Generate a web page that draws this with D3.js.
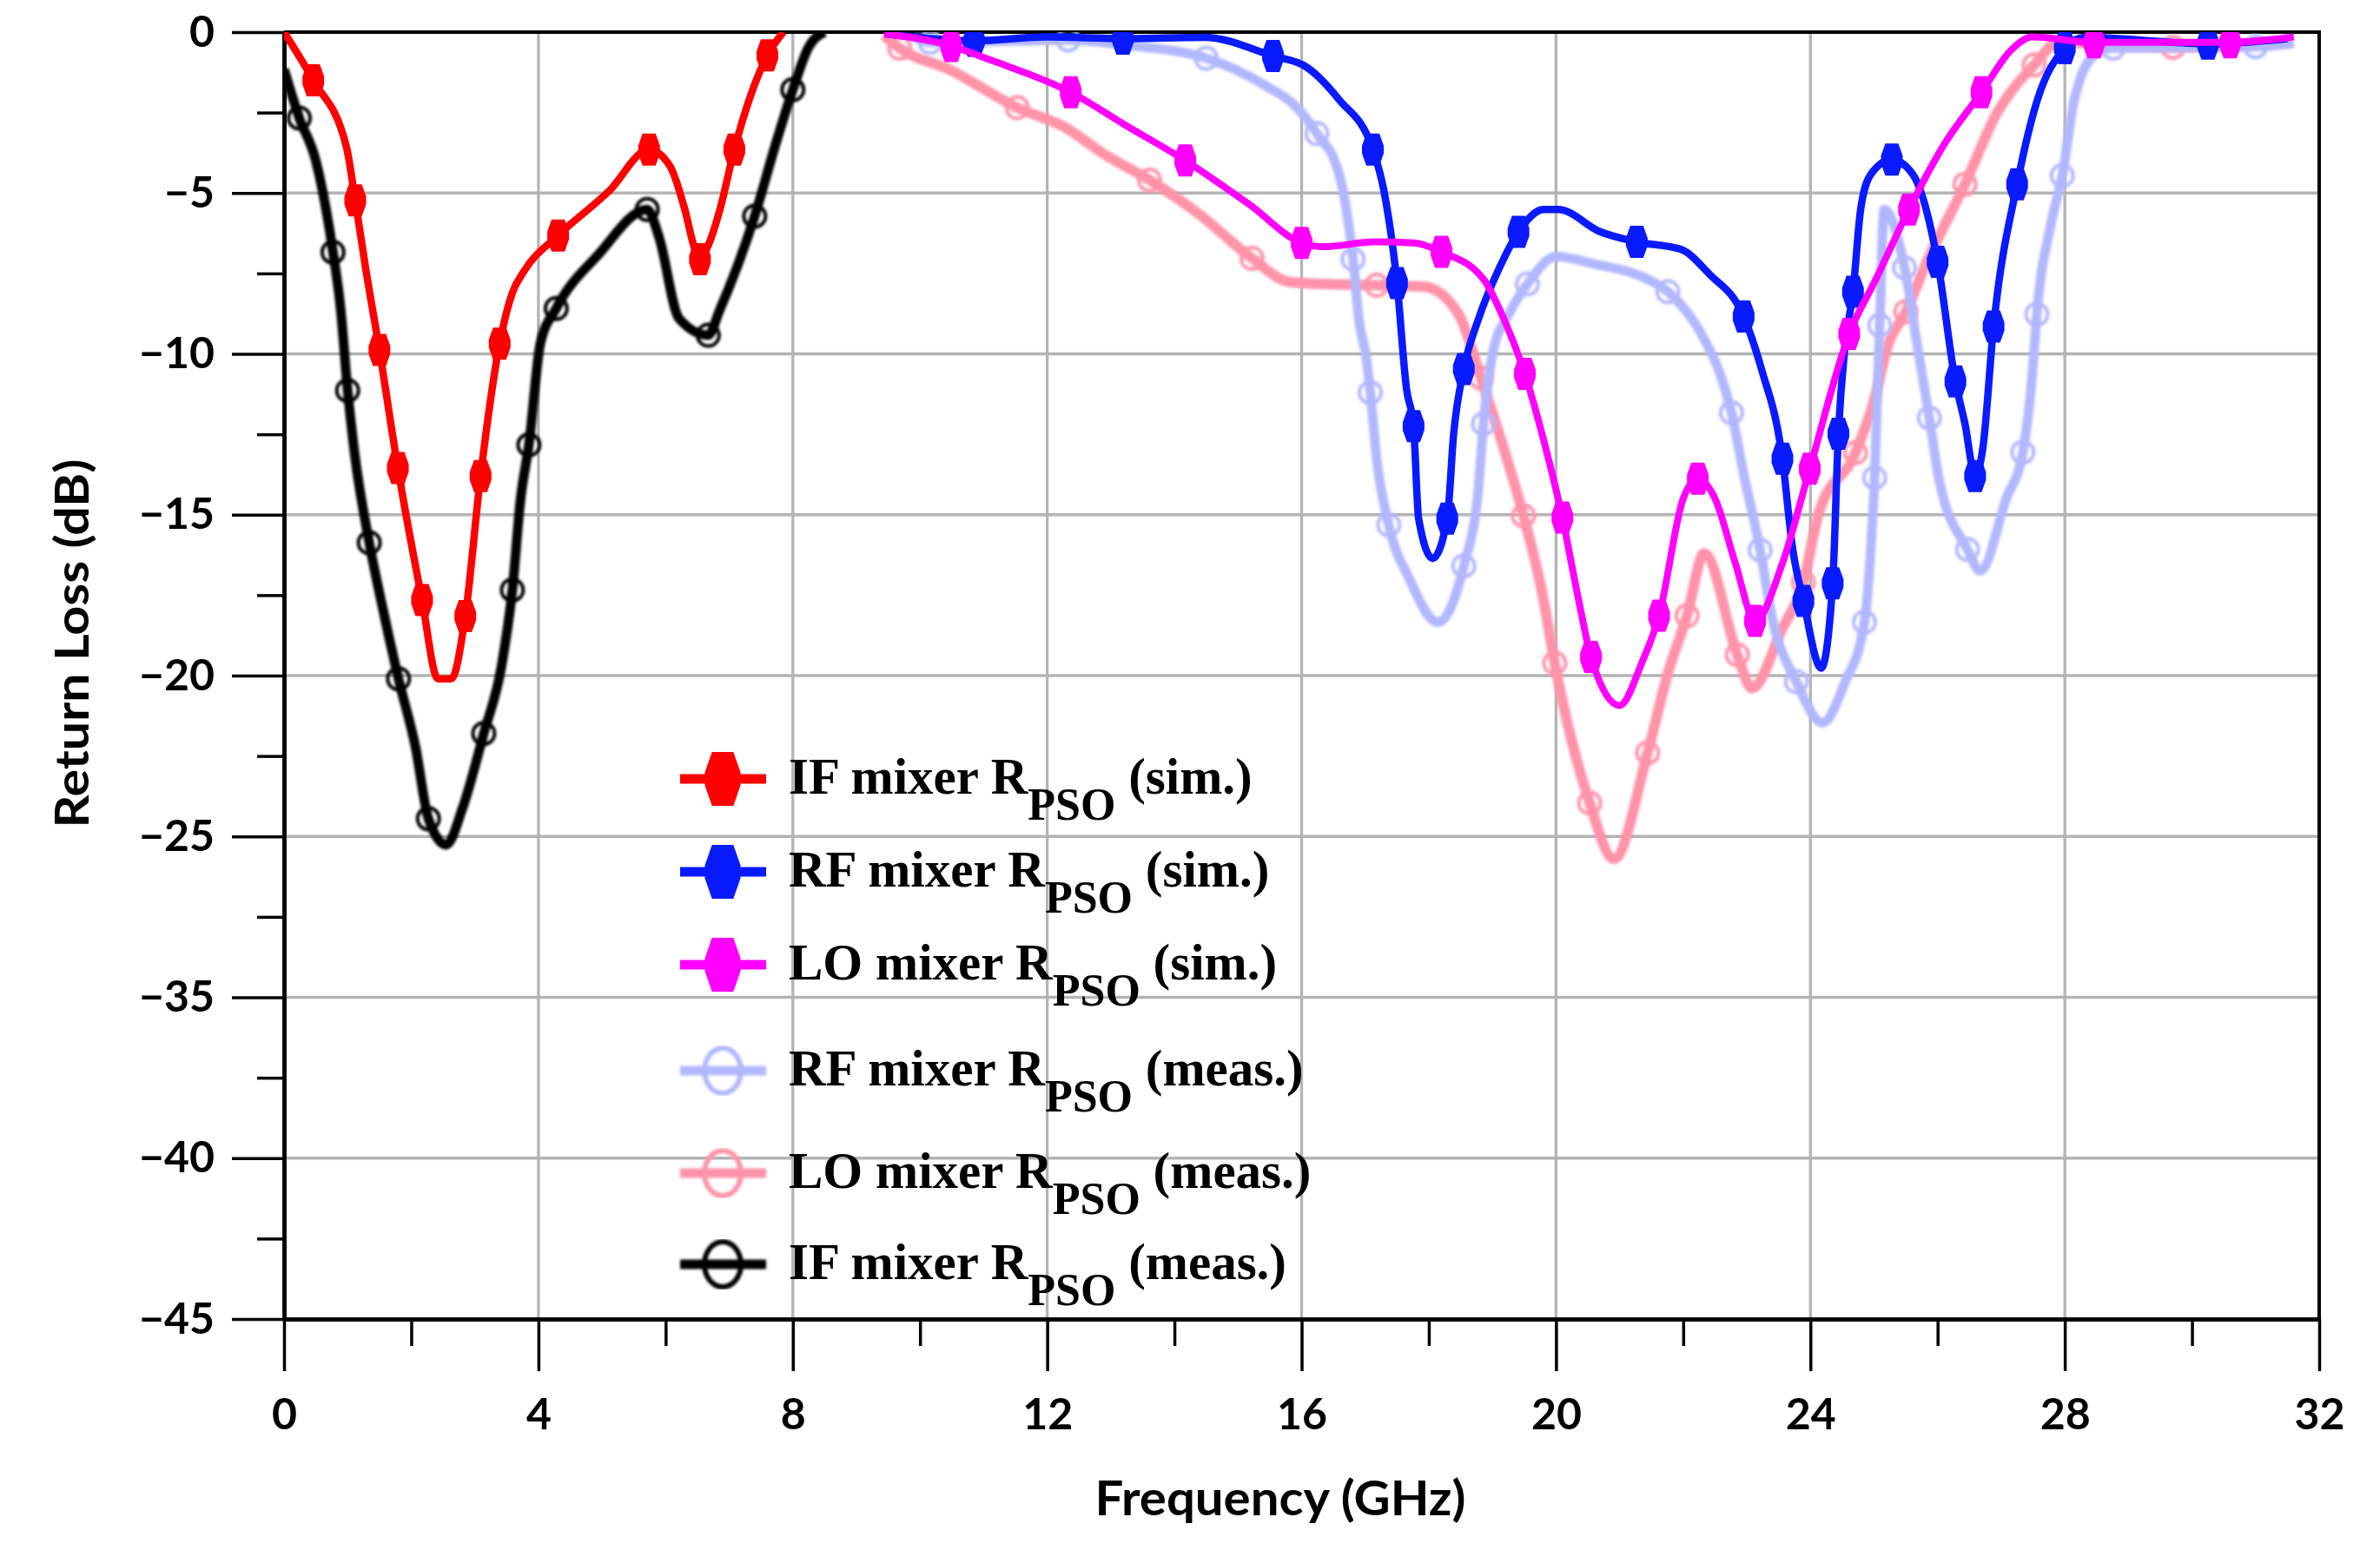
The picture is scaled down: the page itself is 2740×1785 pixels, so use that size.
<!DOCTYPE html>
<html>
<head>
<meta charset="utf-8">
<script src="https://cdn.jsdelivr.net/npm/d3@7"></script>
<style>
  body { margin: 0; background: #fff; }
  .tick text { font-family: Lato, "Open Sans", sans-serif; font-weight: 700; }
</style>
</head>
<body>
<div id="chart"></div>
<script>
// values: [frequency GHz, return loss dB]
var ifSimLine = [[0,0],[0.98,-3.56],[1.28,-7.3],[2.42,-20.1],[2.63,-20.1],[3.59,-8.1],[3.77,-7.44],
  [5.11,-4.94],[6.07,-4.17],[6.3,-5.5],[6.46,-6.75],[6.68,-6.58],[6.85,-5.54],[7.85,0]];
var ifSimMarks = [[0.46,-1.5],[1.12,-5.23],[1.5,-9.88],[1.79,-13.55],[2.17,-17.65],[2.85,-18.15],
  [3.09,-13.8],[3.39,-9.68],[4.31,-6.32],[5.74,-3.65],[6.54,-7.06],[7.08,-3.65],[7.6,-0.72]];

var rfSimLine = [[9.44,-0.05],[12.0,-0.15],[14.47,-0.16],[16.08,-1.09],[16.59,-2.1],[17.29,-4.89],
  [17.65,-11.1],[17.84,-15.12],[18.06,-16.36],[18.39,-12.5],[18.78,-8.92],[19.1,-7.37],[19.8,-5.51],
  [20.04,-5.51],[20.69,-6.2],[21.96,-6.75],[22.41,-7.52],[23.23,-10.47],[23.72,-16.05],[24.17,-19.77],
  [24.54,-9.85],[24.79,-5.51],[24.95,-4.42],[25.61,-4.42],[26.43,-12.17],[26.71,-12.95],[27.57,-2.1],
  [28.31,-0.16],[31.5,-0.2]];
var rfSimMarks = [[10.85,-0.27],[13.19,-0.2],[15.55,-0.74],[17.12,-3.65],[17.5,-7.8],[17.76,-12.25],
  [18.29,-15.12],[18.55,-10.47],[19.41,-6.21],[21.27,-6.52],[22.95,-8.84],[23.56,-13.26],[23.89,-17.68],
  [24.35,-17.13],[24.44,-12.48],[24.67,-8.07],[25.28,-3.96],[26.0,-7.14],[26.28,-10.86],[26.59,-13.8],
  [26.88,-9.15],[27.25,-4.73],[28.0,-0.5],[30.25,-0.36]];

var loSimLine = [[9.44,-0.05],[11.1,-0.86],[13.22,-2.88],[15.18,-5.36],[16.35,-6.67],[17.14,-6.52],
  [17.77,-6.55],[18.86,-7.68],[19.18,-8.92],[19.8,-12.64],[20.35,-17.6],[21.0,-20.93],[21.35,-19.6],
  [22.0,-14.5],[22.5,-14.5],[22.82,-16.51],[23.56,-16.51],[25.03,-7.68],[26.1,-3.5],[27.16,-0.55],
  [27.49,-0.15],[31.6,-0.15]];
var loSimMarks = [[10.49,-0.43],[12.37,-1.87],[14.17,-3.99],[16.0,-6.55],[18.2,-6.83],[19.51,-10.62],
  [20.1,-15.09],[20.55,-19.42],[21.62,-18.14],[22.23,-13.88],[23.13,-18.3],[23.99,-13.57],[24.61,-9.38],
  [25.55,-5.51],[26.69,-1.87],[28.46,-0.32],[30.6,-0.32]];

var rfMeasLine = [[9.9,-0.15],[11.0,-0.3],[13.22,-0.4],[15.41,-1.64],[15.96,-2.41],[16.59,-4.42],
  [16.75,-6.13],[16.9,-8.92],[17.02,-10.16],[17.18,-13.26],[17.69,-16.98],[18.14,-18.34],[18.78,-14.19],
  [19.02,-9.85],[19.26,-8.76],[20.0,-6.98],[20.61,-7.21],[21.35,-7.6],[22.33,-9.54],[22.58,-10.62],
  [22.95,-13.72],[23.4,-18.22],[24.19,-21.47],[24.54,-20.23],[24.95,-16.05],[25.05,-11.4],[25.16,-5.51],
  [25.69,-9.85],[26.02,-13.88],[26.67,-16.75],[27.08,-14.5],[27.49,-10.62],[27.78,-5.98],[28.15,-2.1],
  [28.47,-0.71],[31.6,-0.35]];
var rfMeasMarks = [[10.16,-0.32],[12.33,-0.24],[14.5,-0.81],[16.24,-3.15],[16.81,-7.06],[17.08,-11.2],
  [17.37,-15.32],[18.55,-16.59],[18.86,-12.17],[19.55,-7.83],[21.76,-8.07],[22.76,-11.83],[23.21,-16.1],
  [23.78,-20.19],[24.85,-18.34],[25.01,-13.85],[25.09,-9.11],[25.48,-7.32],[25.87,-11.99],[26.47,-16.08],
  [27.34,-13.06],[27.56,-8.77],[27.96,-4.46],[28.76,-0.5],[31.0,-0.45]];

var loMeasLine = [[9.43,-0.1],[10.47,-1.17],[12.27,-2.95],[12.9,-3.8],[14.39,-5.66],[15.8,-7.76],
  [16.35,-7.83],[17.92,-7.91],[18.47,-8.77],[19.18,-12.95],[19.8,-17.6],[20.91,-25.7],[21.76,-19.92],
  [22.33,-16.2],[23.08,-20.39],[23.56,-18.53],[24.13,-14.96],[25.03,-11.25],[25.2,-9.85],[25.85,-7.06],
  [26.92,-2.56],[27.9,-0.32],[31.3,-0.3]];
var loMeasMarks = [[9.68,-0.5],[11.53,-2.35],[13.61,-4.6],[15.22,-7.03],[17.18,-7.87],[18.82,-10.75],
  [19.49,-15.04],[19.98,-19.61],[20.53,-23.96],[21.44,-22.4],[22.06,-18.14],[22.85,-19.35],[23.89,-17.1],
  [24.71,-13.07],[25.5,-8.69],[26.43,-4.73],[27.52,-1.02],[29.7,-0.47]];

var ifMeasLine = [[0,-1.15],[0.5,-4.0],[0.89,-8.6],[1.11,-13.1],[1.54,-17.8],[2.07,-22.25],[2.55,-25.26],
  [2.81,-24.1],[3.42,-19.7],[3.72,-14.5],[4.03,-9.68],[4.94,-6.92],[5.9,-6.4],[6.21,-8.9],[6.85,-8.64],
  [7.73,-3.48],[8.25,-0.46],[8.5,0]];
var ifMeasMarks = [[0.24,-2.67],[0.77,-6.84],[1.0,-11.14],[1.34,-15.87],[1.8,-20.1],[2.27,-24.45],
  [3.14,-21.8],[3.59,-17.34],[3.85,-12.83],[4.28,-8.59],[5.71,-5.51],[6.67,-9.42],[7.4,-5.72],[8.0,-1.79]];

var xTicks = [0, 4, 8, 12, 16, 20, 24, 28, 32];
var xMinorTicks = [2, 6, 10, 14, 18, 22, 26, 30];
// the original axis skips -30 in its labels
var yTicks = [0, -5, -10, -15, -20, -25, -30, -35, -40];
var yTickLabels = ['0', '\u22125', '\u221210', '\u221215', '\u221220', '\u221225', '\u221235', '\u221240', '\u221245'];
var yMinorTicks = [-2.5, -7.5, -12.5, -17.5, -22.5, -27.5, -32.5, -37.5];

var series = [
  {label: 'IF mixer R', sub: 'PSO', tail: ' (sim.)', line: ifSimLine, marks: ifSimMarks, color: '#ff0000', kind: 'sim', sw: 8.5},
  {label: 'RF mixer R', sub: 'PSO', tail: ' (sim.)', line: rfSimLine, marks: rfSimMarks, color: '#0a1aff', kind: 'sim', sw: 8.5},
  {label: 'LO mixer R', sub: 'PSO', tail: ' (sim.)', line: loSimLine, marks: loSimMarks, color: '#ff00ff', kind: 'sim', sw: 8},
  {label: 'RF mixer R', sub: 'PSO', tail: ' (meas.)', line: rfMeasLine, marks: rfMeasMarks, color: '#b2b8ff', kind: 'meas', sw: 11},
  {label: 'LO mixer R', sub: 'PSO', tail: ' (meas.)', line: loMeasLine, marks: loMeasMarks, color: '#ff93a9', kind: 'meas', sw: 12},
  {label: 'IF mixer R', sub: 'PSO', tail: ' (meas.)', line: ifMeasLine, marks: ifMeasMarks, color: '#000000', kind: 'meas', sw: 11}
];

var width = 2740, height = 1785;
var plot = {left: 327, right: 2670, top: 37, bottom: 1519};

var svg = d3.select('#chart').append('svg')
  .attr('width', width)
  .attr('height', height)
  .style('display', 'block');

var defs = svg.append('defs');
defs.append('clipPath').attr('id', 'plotclip')
  .append('rect')
  .attr('x', plot.left).attr('y', plot.top)
  .attr('width', plot.right - plot.left).attr('height', plot.bottom - plot.top);
defs.append('filter').attr('id', 'soft')
  .attr('x', '-5%').attr('y', '-5%').attr('width', '110%').attr('height', '110%')
  .append('feGaussianBlur').attr('stdDeviation', 1.5);

var x = d3.scaleLinear().domain([0, 32]).range([plot.left, plot.right]);
var y = d3.scaleLinear().domain([0, -40]).range([plot.top, plot.bottom]);

// grid
svg.append('g').selectAll('line.vgrid')
  .data(xTicks.slice(1, -1)).enter().append('line')
  .attr('x1', d => x(d)).attr('x2', d => x(d))
  .attr('y1', plot.top).attr('y2', plot.bottom)
  .attr('stroke', '#b4b4b4').attr('stroke-width', 3.3);
svg.append('g').selectAll('line.hgrid')
  .data(yTicks.slice(1)).enter().append('line')
  .attr('x1', plot.left).attr('x2', plot.right)
  .attr('y1', d => y(d)).attr('y2', d => y(d))
  .attr('stroke', '#b4b4b4').attr('stroke-width', 3.3);

// top and right border
svg.append('path')
  .attr('d', `M${plot.left},${plot.top}H${plot.right}V${plot.bottom}`)
  .attr('fill', 'none').attr('stroke', '#000').attr('stroke-width', 4);

// axes
var xAxis = d3.axisBottom(x).tickValues(xTicks).tickSize(60).tickSizeOuter(0).tickPadding(31);
var xMinor = d3.axisBottom(x).tickValues(xMinorTicks).tickSize(31).tickSizeOuter(0).tickFormat('');
var yAxis = d3.axisLeft(y).tickValues(yTicks).tickSize(60).tickSizeOuter(0).tickPadding(20)
  .tickFormat((d, i) => yTickLabels[i]);
var yMinor = d3.axisLeft(y).tickValues(yMinorTicks).tickSize(31).tickSizeOuter(0).tickFormat('');

function styleAxis(g) {
  g.select('.domain').attr('stroke', '#000').attr('stroke-width', 4.5);
  g.selectAll('.tick line').attr('stroke', '#000').attr('stroke-width', 3.5);
  g.selectAll('.tick text').attr('fill', '#000').style('font-size', '50px');
}

svg.append('g').attr('transform', `translate(0,${plot.bottom})`).call(xMinor).call(styleAxis);
svg.append('g').attr('transform', `translate(0,${plot.bottom})`).call(xAxis).call(styleAxis);
svg.append('g').attr('transform', `translate(${plot.left},0)`).call(yMinor).call(styleAxis);
svg.append('g').attr('transform', `translate(${plot.left},0)`).call(yAxis).call(styleAxis);

// axis titles
svg.append('text')
  .attr('x', 1474).attr('y', 1745)
  .attr('text-anchor', 'middle')
  .attr('textLength', 427).attr('lengthAdjust', 'spacingAndGlyphs')
  .style('font-family', 'Lato, "Open Sans", sans-serif').style('font-weight', 700).style('font-size', '55px')
  .text('Frequency (GHz)');
svg.append('text')
  .attr('transform', 'translate(102,741) rotate(-90)')
  .attr('text-anchor', 'middle')
  .attr('textLength', 425).attr('lengthAdjust', 'spacingAndGlyphs')
  .style('font-family', 'Lato, "Open Sans", sans-serif').style('font-weight', 700).style('font-size', '53px')
  .text('Return Loss (dB)');

// elongated hexagon used for the simulated curves
function simShape(w, h) {
  return `M${-0.3 * w},${-h / 2}L${0.3 * w},${-h / 2}L${0.5 * w},${-0.12 * h}L${0.5 * w},${0.12 * h}` +
    `L${0.3 * w},${h / 2}L${-0.3 * w},${h / 2}L${-0.5 * w},${0.12 * h}L${-0.5 * w},${-0.12 * h}Z`;
}

var lineGen = d3.line()
  .x(d => x(d[0]))
  .y(d => y(d[1]))
  .curve(d3.curveMonotoneX);

function mergePts(a, b) {
  var all = a.concat(b).sort((p, q) => p[0] - q[0]);
  return all.filter((p, i) => i === 0 || p[0] !== all[i - 1][0]);
}

var dataLayer = svg.append('g').attr('clip-path', 'url(#plotclip)');

// measured curves first, then simulated on top
var drawOrder = [4, 3, 5, 0, 1, 2];
drawOrder.forEach(function(idx) {
  var s = series[idx];
  var g = dataLayer.append('g');
  if (s.kind === 'meas') g.attr('filter', 'url(#soft)');
  g.append('path')
    .attr('d', lineGen(mergePts(s.line, s.marks)))
    .attr('fill', 'none')
    .attr('stroke', s.color)
    .attr('stroke-width', s.sw)
    .attr('stroke-linejoin', 'round');
  if (s.kind === 'meas') {
    g.selectAll('circle').data(s.marks).enter().append('circle')
      .attr('cx', d => x(d[0])).attr('cy', d => y(d[1]))
      .attr('r', 12.5)
      .attr('fill', 'none').attr('stroke', s.color).attr('stroke-width', 4);
  } else {
    g.selectAll('path.mk').data(s.marks).enter().append('path')
      .attr('class', 'mk')
      .attr('transform', d => `translate(${x(d[0])},${y(d[1])})`)
      .attr('d', simShape(25, 37))
      .attr('fill', s.color);
  }
});

// legend
var legendRows = [897, 1004, 1111, 1233, 1351, 1456];
var legend = svg.append('g');
series.forEach(function(s, i) {
  var cy = legendRows[i];
  var row = legend.append('g');
  if (s.kind === 'meas') row.attr('filter', 'url(#soft)');
  row.append('line')
    .attr('x1', 783).attr('x2', 882).attr('y1', cy).attr('y2', cy)
    .attr('stroke', s.color).attr('stroke-width', 11);
  if (s.kind === 'meas') {
    row.append('ellipse')
      .attr('cx', 832).attr('cy', cy).attr('rx', 21).attr('ry', 26)
      .attr('fill', 'none').attr('stroke', s.color).attr('stroke-width', 6);
  } else {
    row.append('path')
      .attr('transform', `translate(832,${cy})`)
      .attr('d', simShape(41, 62))
      .attr('fill', s.color);
  }
  var t = legend.append('text')
    .attr('x', 908).attr('y', cy + 17)
    .style('font-family', '"Liberation Serif", "Times New Roman", serif')
    .style('font-weight', 700).style('font-size', '59px')
    .attr('fill', '#000');
  t.append('tspan').text(s.label);
  t.append('tspan').attr('dy', 30).style('font-size', '52px').text(s.sub);
  t.append('tspan').attr('dy', -30).text(s.tail);
});
</script>
</body>
</html>
